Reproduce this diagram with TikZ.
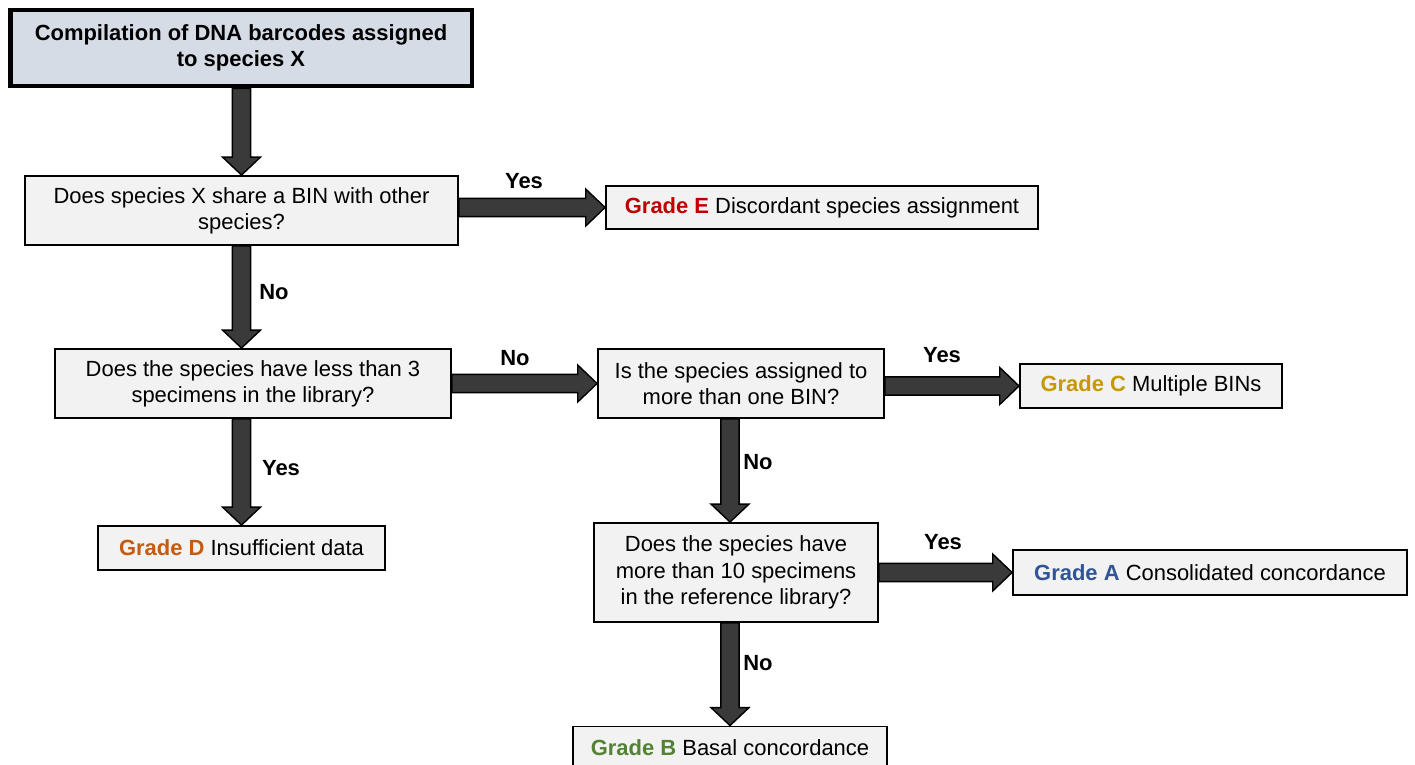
\documentclass[tikz,border=0pt]{standalone}
\usepackage{fontspec}
\setmainfont{Liberation Sans}
\usetikzlibrary{calc}

\definecolor{boxgray}{HTML}{F2F2F2}
\definecolor{topfill}{HTML}{D6DCE5}
\definecolor{arrowgray}{HTML}{3A3A3A}
\definecolor{gradeE}{HTML}{C00000}
\definecolor{gradeD}{HTML}{C55A11}
\definecolor{gradeC}{HTML}{C49A00}
\definecolor{gradeA}{HTML}{2F5597}
\definecolor{gradeB}{HTML}{548235}

% down and right block arrows, from #1 to the tip #2
\newcommand{\vblock}[2]{%
  \draw[blockarrow] ([xshift=-5.2pt]#1) -- ([xshift=-5.2pt,yshift=10.2pt]#2)
    -- ([xshift=-10.8pt,yshift=10.2pt]#2) -- (#2) -- ([xshift=10.8pt,yshift=10.2pt]#2)
    -- ([xshift=5.2pt,yshift=10.2pt]#2) -- ([xshift=5.2pt]#1) -- cycle;}
\newcommand{\hblock}[2]{%
  \draw[blockarrow] ([yshift=5.2pt]#1) -- ([xshift=-11pt,yshift=5.2pt]#2)
    -- ([xshift=-11pt,yshift=10.5pt]#2) -- (#2) -- ([xshift=-11pt,yshift=-10.5pt]#2)
    -- ([xshift=-11pt,yshift=-5.2pt]#2) -- ([yshift=-5.2pt]#1) -- cycle;}

\begin{document}
\begin{tikzpicture}[x=0.02cm, y=-0.02cm,
    every node/.style={font=\fontsize{12.5}{15}\selectfont},
    box/.style={draw=black, line width=1.1pt, fill=boxgray, align=center, inner sep=2pt},
    startbox/.style={box, line width=2.8pt, fill=topfill, font=\fontsize{12.5}{15}\selectfont\bfseries},
    answer/.style={font=\fontsize{12.5}{15}\selectfont\bfseries},
    blockarrow/.style={fill=arrowgray, draw=black, line width=0.8pt, line join=miter}]
    \useasboundingbox (0,0) rectangle (1415,764);

    \node[startbox, minimum width=9.24cm, minimum height=1.52cm] (start) at (241,48)
        {Compilation of DNA barcodes assigned\\to species X};
    \node[box, minimum width=8.66cm, minimum height=1.38cm] (share) at (241.5,210.5)
        {Does species X share a BIN with other\\species?};
    \node[box, minimum width=8.64cm, minimum height=0.86cm] (gradeE) at (822,207.5)
        {\textcolor{gradeE}{\bfseries Grade E} Discordant species assignment};
    \node[box, minimum width=7.92cm, minimum height=1.38cm] (less) at (253,383.5)
        {Does the species have less than 3\\specimens in the library?};
    \node[box, minimum width=5.72cm, minimum height=1.38cm] (multi) at (741,383.5)
        {Is the species assigned to\\more than one BIN?};
    \node[box, minimum width=5.24cm, minimum height=0.88cm] (gradeC) at (1151,386)
        {\textcolor{gradeC}{\bfseries Grade C} Multiple BINs};
    \node[box, minimum width=5.74cm, minimum height=0.88cm] (gradeD) at (241.5,548)
        {\textcolor{gradeD}{\bfseries Grade D} Insufficient data};
    \node[box, minimum width=5.68cm, minimum height=1.98cm] (more) at (736,572.5)
        {Does the species have\\more than 10 specimens\\in the reference library?};
    \node[box, minimum width=7.88cm, minimum height=0.90cm] (gradeA) at (1210,572.5)
        {\textcolor{gradeA}{\bfseries Grade A} Consolidated concordance};
    \node[box, minimum width=6.28cm, minimum height=0.86cm] (gradeB) at (730,748)
        {\textcolor{gradeB}{\bfseries Grade B} Basal concordance};

    % arrows
    \vblock{start.south -| gradeD}{share.north -| gradeD}
    \vblock{share.south -| gradeD}{less.north -| gradeD}
    \vblock{less.south -| gradeD}{gradeD.north}
    \hblock{share.east |- gradeE}{gradeE.west}
    \hblock{less.east}{multi.west}
    \hblock{multi.east |- gradeC}{gradeC.west}
    \vblock{multi.south -| gradeB}{more.north -| gradeB}
    \hblock{more.east}{gradeA.west}
    \vblock{more.south -| gradeB}{gradeB.north}

    \node[answer] (yes1) at (524,181) {Yes};
    \node[answer] (no1) at (274,292) {No};
    \node[answer] (no2) at (515,358) {No};
    \node[answer] (yes2) at (281,468) {Yes};
    \node[answer] (yes3) at (942,355) {Yes};
    \node[answer] (no3) at (758,462) {No};
    \node[answer] (yes4) at (943,542) {Yes};
    \node[answer] (no4) at (758,663) {No};
\end{tikzpicture}
\end{document}
